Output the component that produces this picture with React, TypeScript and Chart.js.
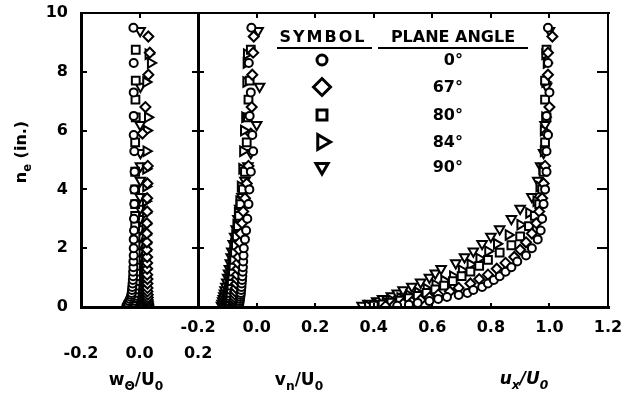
import React, { useEffect, useRef } from 'react';
import { Chart, registerables } from 'chart.js';
import { drawPoint } from 'chart.js/helpers';

Chart.register(...registerables);

// ---- data ----
const ANGLES = ['0°', '67°', '80°', '84°', '90°'];
const Y_TICKS = [0, 2, 4, 6, 8, 10];
const W_TICKS = [-0.2, 0.0, 0.2];
const X_TICKS = [-0.2, 0.0, 0.2, 0.4, 0.6, 0.8, 1.0, 1.2];

// plane angle 0° (circle)
const NE_0 = [0.04, 0.08, 0.14, 0.2, 0.27, 0.34, 0.41, 0.48, 0.58, 0.68, 0.8, 0.92, 1.05, 1.2, 1.35, 1.55, 1.75, 2.0, 2.3, 2.6, 3.0, 3.5, 4.0, 4.6, 5.3, 5.85, 6.5, 7.3, 8.3, 9.5];
const W_0 = [-0.045, -0.042, -0.04, -0.036, -0.033, -0.03, -0.028, -0.027, -0.026, -0.025, -0.024, -0.023, -0.022, -0.022, -0.021, -0.021, -0.02, -0.02, -0.02, -0.019, -0.019, -0.018, -0.018, -0.017, -0.018, -0.02, -0.02, -0.02, -0.02, -0.021];
const V_0 = [-0.06, -0.06, -0.059, -0.058, -0.057, -0.056, -0.055, -0.054, -0.053, -0.052, -0.051, -0.05, -0.049, -0.048, -0.047, -0.046, -0.045, -0.044, -0.04, -0.036, -0.032, -0.028, -0.025, -0.02, -0.012, -0.015, -0.024, -0.02, -0.027, -0.018];
const U_0 = [0.48, 0.52, 0.55, 0.59, 0.62, 0.65, 0.69, 0.72, 0.74, 0.77, 0.79, 0.81, 0.83, 0.85, 0.87, 0.89, 0.92, 0.94, 0.96, 0.97, 0.975, 0.98, 0.985, 0.99, 0.99, 0.995, 0.99, 1.0, 0.995, 0.995];

// plane angle 67° (diamond)
const NE_67 = [0.03, 0.07, 0.11, 0.17, 0.24, 0.32, 0.42, 0.53, 0.65, 0.8, 0.95, 1.1, 1.3, 1.5, 1.7, 1.95, 2.2, 2.5, 2.85, 3.25, 3.7, 4.2, 4.8, 5.9, 6.8, 7.9, 8.65, 9.2];
const W_67 = [0.03, 0.03, 0.029, 0.029, 0.028, 0.028, 0.028, 0.027, 0.027, 0.027, 0.027, 0.026, 0.026, 0.026, 0.026, 0.025, 0.025, 0.025, 0.025, 0.026, 0.026, 0.027, 0.028, 0.01, 0.02, 0.03, 0.035, 0.03];
const V_67 = [-0.08, -0.079, -0.078, -0.077, -0.076, -0.075, -0.074, -0.073, -0.071, -0.07, -0.068, -0.067, -0.065, -0.064, -0.062, -0.06, -0.058, -0.055, -0.05, -0.046, -0.04, -0.034, -0.028, -0.02, -0.017, -0.015, -0.012, -0.01];
const U_67 = [0.44, 0.47, 0.5, 0.53, 0.56, 0.59, 0.62, 0.66, 0.69, 0.73, 0.76, 0.79, 0.82, 0.85, 0.88, 0.9, 0.92, 0.94, 0.955, 0.965, 0.975, 0.98, 0.985, 0.99, 1.0, 0.995, 0.995, 1.01];

// plane angle 80° (square)
const NE_80 = [0.05, 0.09, 0.15, 0.22, 0.3, 0.38, 0.48, 0.6, 0.73, 0.88, 1.05, 1.2, 1.4, 1.6, 1.85, 2.1, 2.4, 2.75, 3.1, 3.5, 4.0, 4.6, 5.6, 6.45, 7.05, 7.7, 8.75];
const W_80 = [-0.03, -0.028, -0.025, -0.022, -0.02, -0.018, -0.016, -0.015, -0.014, -0.013, -0.012, -0.012, -0.012, -0.013, -0.013, -0.014, -0.014, -0.015, -0.015, -0.015, -0.015, -0.015, -0.015, -0.013, -0.014, -0.013, -0.013];
const V_80 = [-0.095, -0.094, -0.093, -0.092, -0.091, -0.09, -0.089, -0.088, -0.086, -0.085, -0.083, -0.081, -0.079, -0.077, -0.074, -0.071, -0.068, -0.064, -0.06, -0.055, -0.047, -0.04, -0.034, -0.03, -0.028, -0.024, -0.02];
const U_80 = [0.4, 0.43, 0.46, 0.49, 0.52, 0.55, 0.58, 0.61, 0.64, 0.67, 0.7, 0.73, 0.76, 0.79, 0.83, 0.87, 0.9, 0.93, 0.95, 0.965, 0.975, 0.98, 0.985, 0.99, 0.985, 0.985, 0.99];

// plane angle 84° (right-pointing triangle)
const NE_84 = [0.04, 0.1, 0.16, 0.23, 0.31, 0.4, 0.5, 0.62, 0.76, 0.9, 1.05, 1.25, 1.45, 1.65, 1.9, 2.15, 2.45, 2.8, 3.2, 3.6, 4.1, 4.7, 5.3, 6.0, 6.45, 7.65, 8.3, 8.6];
const W_84 = [0.02, 0.02, 0.02, 0.019, 0.019, 0.019, 0.018, 0.018, 0.018, 0.018, 0.018, 0.018, 0.018, 0.019, 0.019, 0.02, 0.02, 0.02, 0.021, 0.021, 0.022, 0.022, 0.023, 0.024, 0.028, 0.022, 0.038, 0.03];
const V_84 = [-0.11, -0.109, -0.108, -0.106, -0.105, -0.103, -0.101, -0.099, -0.097, -0.095, -0.093, -0.09, -0.087, -0.084, -0.081, -0.078, -0.074, -0.07, -0.065, -0.06, -0.055, -0.05, -0.047, -0.044, -0.04, -0.036, -0.035, -0.034];
const U_84 = [0.38, 0.41, 0.44, 0.46, 0.49, 0.52, 0.55, 0.58, 0.61, 0.64, 0.67, 0.7, 0.73, 0.76, 0.79, 0.82, 0.86, 0.9, 0.93, 0.955, 0.965, 0.975, 0.98, 0.98, 0.985, 0.985, 0.99, 0.985];

// plane angle 90° (down-pointing triangle)
const NE_90 = [0.05, 0.12, 0.2, 0.28, 0.37, 0.47, 0.58, 0.7, 0.84, 1.0, 1.15, 1.3, 1.5, 1.7, 1.9, 2.15, 2.4, 2.65, 3.0, 3.35, 3.75, 4.3, 4.8, 5.25, 6.2, 7.5, 9.4];
const W_90 = [-0.01, -0.008, -0.006, -0.005, -0.004, -0.003, -0.002, -0.002, -0.001, 0.0, 0.0, 0.0, 0.001, 0.001, 0.001, 0.001, 0.002, 0.002, 0.002, 0.002, 0.002, 0.003, 0.003, 0.003, 0.002, 0.003, 0.002];
const V_90 = [-0.12, -0.118, -0.116, -0.114, -0.112, -0.11, -0.108, -0.105, -0.102, -0.099, -0.096, -0.093, -0.09, -0.087, -0.085, -0.08, -0.075, -0.07, -0.064, -0.058, -0.05, -0.04, -0.03, -0.02, 0.0, 0.01, 0.005];
const U_90 = [0.36, 0.38, 0.41, 0.43, 0.46, 0.48, 0.5, 0.53, 0.56, 0.59, 0.61, 0.63, 0.68, 0.71, 0.74, 0.77, 0.8, 0.83, 0.87, 0.9, 0.94, 0.96, 0.97, 0.98, 0.985, 0.99, 1.0];

// ---- styling ----
const FONT = '"DejaVu Sans", "Liberation Sans", sans-serif';
const SERIES = [
  { ne: NE_0, w: W_0, v: V_0, u: U_0, style: 'circle', rot: 0, r: 4, lr: 5 },
  { ne: NE_67, w: W_67, v: V_67, u: U_67, style: 'rectRot', rot: 0, r: 5, lr: 8.5 },
  { ne: NE_80, w: W_80, v: V_80, u: U_80, style: 'rect', rot: 0, r: 5.5, lr: 7 },
  { ne: NE_84, w: W_84, v: V_84, u: U_84, style: 'triangle', rot: 90, r: 5.5, lr: 8.5 },
  { ne: NE_90, w: W_90, v: V_90, u: U_90, style: 'triangle', rot: 180, r: 5.5, lr: 7 },
];

function makeDatasets() {
  const out: any[] = [];
  SERIES.forEach((s, i) => {
    const base = {
      pointStyle: s.style, pointRotation: s.rot, pointRadius: s.r, pointBorderWidth: 2,
      pointBorderColor: '#000', pointBackgroundColor: '#fff', showLine: false, yAxisID: 'y',
    };
    out.push({ ...base, label: ANGLES[i] + ' w', xAxisID: 'xw', data: s.ne.map((n, j) => ({ x: s.w[j], y: n })) });
    out.push({ ...base, label: ANGLES[i] + ' v', xAxisID: 'xu', data: s.ne.map((n, j) => ({ x: s.v[j], y: n })) });
    out.push({ ...base, label: ANGLES[i] + ' u', xAxisID: 'xu', data: s.ne.map((n, j) => ({ x: s.u[j], y: n })) });
  });
  return out;
}

type Part = { t: string; sub?: boolean };
function drawRich(ctx: CanvasRenderingContext2D, parts: Part[], x: number, y: number, size: number, italic = false) {
  const font = (s: number) => `${italic ? 'italic ' : ''}bold ${s}px ${FONT}`;
  const widths = parts.map((p) => { ctx.font = font(p.sub ? size * 0.72 : size); return ctx.measureText(p.t).width; });
  const total = widths.reduce((a, b) => a + b, 0);
  let cx = x - total / 2;
  ctx.textAlign = 'left';
  ctx.textBaseline = 'alphabetic';
  parts.forEach((p, i) => {
    ctx.font = font(p.sub ? size * 0.72 : size);
    ctx.fillText(p.t, cx, y + (p.sub ? size * 0.32 : 0));
    cx += widths[i];
  });
}

function hline(ctx: CanvasRenderingContext2D, x1: number, x2: number, y: number, t = 2) {
  ctx.fillRect(Math.round(Math.min(x1, x2)), Math.round(y - t / 2), Math.round(Math.abs(x2 - x1)), t);
}
function vline(ctx: CanvasRenderingContext2D, x: number, y1: number, y2: number, t = 2) {
  ctx.fillRect(Math.round(x - t / 2), Math.round(Math.min(y1, y2)), t, Math.round(Math.abs(y2 - y1)));
}

const framePlugin = {
  id: 'frameTicks',
  afterDraw(chart: any) {
    const ctx: CanvasRenderingContext2D = chart.ctx;
    const y = chart.scales.y, xw = chart.scales.xw, xu = chart.scales.xu;
    const L = xu.getPixelForValue(xu.min);
    const R = xu.getPixelForValue(X_TICKS[X_TICKS.length - 1]);
    const T = y.getPixelForValue(Y_TICKS[Y_TICKS.length - 1]);
    const B = y.getPixelForValue(Y_TICKS[0]);
    const div = xw.getPixelForValue(W_TICKS[W_TICKS.length - 1]);
    ctx.save();
    ctx.fillStyle = '#000';
    // panel frame and divider
    hline(ctx, L - 1, R + 2, T, 2);
    hline(ctx, L - 1, R + 2, B, 3);
    vline(ctx, L, T - 1, B + 2, 3);
    vline(ctx, R, T - 1, B + 2, 2);
    vline(ctx, div, T - 1, B + 2, 3);
    // tick marks
    Y_TICKS.slice(1, -1).forEach((v) => {
      const py = y.getPixelForValue(v);
      hline(ctx, L, L + 6, py);
      hline(ctx, div - 6, div + 6, py);
      hline(ctx, R - 11, R, py);
    });
    X_TICKS.slice(1, -1).forEach((v) => {
      const px = xu.getPixelForValue(v);
      vline(ctx, px, T, T + 5);
      vline(ctx, px, B - 4, B);
    });
    vline(ctx, xw.getPixelForValue(0), T, T + 5);

    // axis titles
    drawRich(ctx, [{ t: 'w' }, { t: 'Θ', sub: true }, { t: '/U' }, { t: '0', sub: true }], 136, 385, 17);
    drawRich(ctx, [{ t: 'v' }, { t: 'n', sub: true }, { t: '/U' }, { t: '0', sub: true }], 299, 385, 17);
    drawRich(ctx, [{ t: 'u' }, { t: 'x', sub: true }, { t: '/U' }, { t: '0', sub: true }], 524, 384, 17, true);
    ctx.save();
    ctx.translate(26, 152);
    ctx.rotate(-Math.PI / 2);
    drawRich(ctx, [{ t: 'n' }, { t: 'e', sub: true }, { t: ' (in.)' }], 0, 0, 16);
    ctx.restore();

    // legend table
    ctx.font = `bold 16px ${FONT}`;
    ctx.textAlign = 'center';
    ctx.textBaseline = 'middle';
    (ctx as any).letterSpacing = '2px';
    ctx.fillText('SYMBOL', 323, 38);
    (ctx as any).letterSpacing = '0px';
    ctx.fillText('PLANE ANGLE', 453, 38);
    hline(ctx, 277, 372, 48);
    hline(ctx, 378, 528, 48);
    const rows = [60, 87, 115, 142, 167];
    SERIES.forEach((s, i) => {
      ctx.fillStyle = '#fff';
      ctx.strokeStyle = '#000';
      ctx.lineWidth = 3;
      drawPoint(ctx, { pointStyle: s.style, rotation: s.rot, radius: s.lr, borderWidth: 3 } as any, 322, rows[i]);
      ctx.fillStyle = '#000';
      ctx.font = `bold 16px ${FONT}`;
      ctx.textAlign = 'right';
      ctx.textBaseline = 'middle';
      ctx.fillText(ANGLES[i], 463, rows[i] + 1);
    });
    ctx.restore();
  },
};

const tickFont = { family: FONT, size: 16, weight: 'bold' as const };

export default function App() {
  const ref = useRef<HTMLCanvasElement>(null);
  useEffect(() => {
    const chart = new Chart(ref.current as HTMLCanvasElement, {
      type: 'scatter',
      data: { datasets: makeDatasets() },
      options: {
        responsive: false,
        devicePixelRatio: 1,
        animation: false,
        layout: { padding: { top: 13, right: 17, bottom: 0, left: 0 } },
        plugins: { legend: { display: false }, tooltip: { enabled: false } },
        scales: {
          y: {
            type: 'linear', axis: 'y', position: 'left', min: 0, max: 10,
            afterBuildTicks: (s: any) => { s.ticks = Y_TICKS.map((v) => ({ value: v })); },
            ticks: { color: '#000', font: tickFont, padding: 13, callback: (v: any) => String(v) },
            grid: { display: false, drawTicks: false },
            border: { display: false },
            afterFit: (s: any) => { s.width = 81; s.paddingTop = 0; s.paddingBottom = 0; },
          },
          // v_n/U0 and u_x/U0 (right panel, labelled -0.2 … 1.2)
          xu: {
            type: 'linear', axis: 'x', position: 'bottom', min: -0.6, max: 1.2,
            afterBuildTicks: (s: any) => { s.ticks = X_TICKS.map((v) => ({ value: v })); },
            ticks: { color: '#000', font: tickFont, padding: 11, autoSkip: false, maxRotation: 0, callback: (v: any) => Number(v).toFixed(1) },
            grid: { display: false, drawTicks: false },
            border: { display: false },
            afterFit: (s: any) => { s.height = 30; s.paddingLeft = 0; s.paddingRight = 0; },
          },
          // w_Θ/U0 (left panel, labelled -0.2 … 0.2)
          xw: {
            type: 'linear', axis: 'x', position: 'bottom', min: -0.2, max: 1.6,
            afterBuildTicks: (s: any) => { s.ticks = W_TICKS.map((v) => ({ value: v })); },
            ticks: { color: '#000', font: tickFont, padding: 7, autoSkip: false, maxRotation: 0, callback: (v: any) => Number(v).toFixed(1) },
            grid: { display: false, drawTicks: false },
            border: { display: false },
            afterFit: (s: any) => { s.height = 57; s.paddingLeft = 0; s.paddingRight = 0; },
          },
        },
      } as any,
      plugins: [framePlugin],
    });
    return () => chart.destroy();
  }, []);
  return (
    <div style={{ position: 'fixed', left: 0, top: 0, width: 625, height: 394, background: '#fff' }}>
      <canvas ref={ref} width={625} height={394} style={{ display: 'block', width: 625, height: 394 }} />
    </div>
  );
}
